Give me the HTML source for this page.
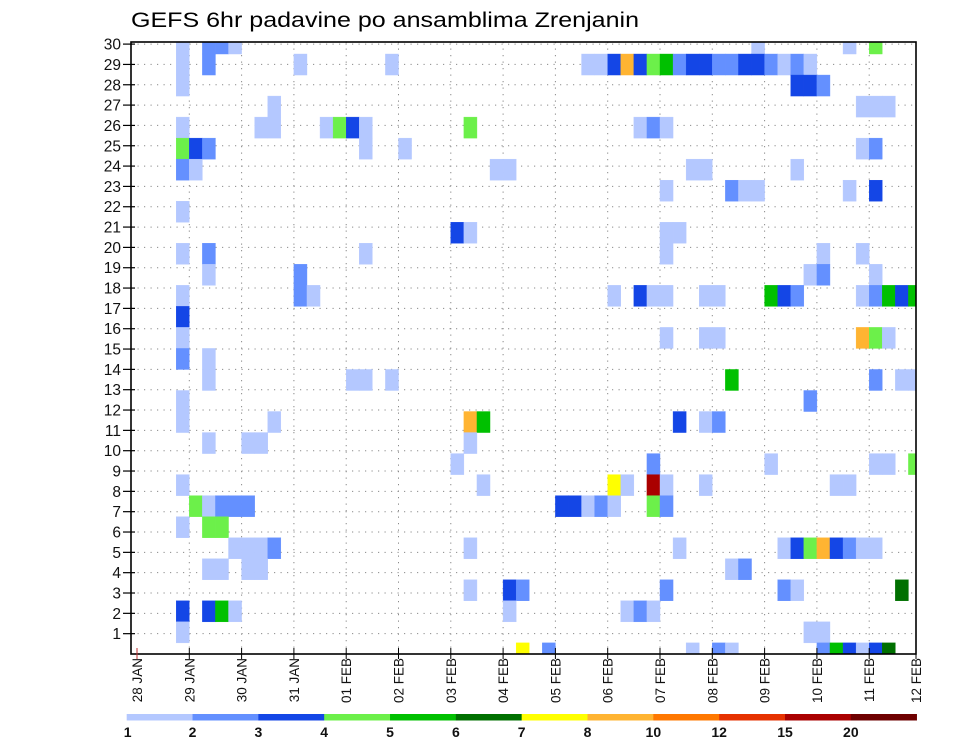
<!DOCTYPE html>
<html><head><meta charset="utf-8">
<style>
html,body{margin:0;padding:0;background:#fff;}
svg{display:block;font-family:"Liberation Sans",sans-serif;}
</style></head>
<body>
<svg id="chart" width="960" height="742" viewBox="0 0 960 742" xmlns="http://www.w3.org/2000/svg">
<text x="131" y="27" font-size="21" textLength="508" lengthAdjust="spacingAndGlyphs" fill="#000">GEFS 6hr padavine po ansamblima Zrenjanin</text>
<g id="grid"></g>
<g id="cells"></g>
<rect x="131" y="42" width="785" height="612" fill="none" stroke="#000" stroke-width="1.6"/>
<g id="yaxis"></g>
<g id="xaxis"></g>
<g id="cbar"></g>
</svg>
<script>
// ---- data ----
const dayLabels = ["28 JAN","29 JAN","30 JAN","31 JAN","01 FEB","02 FEB","03 FEB","04 FEB","05 FEB","06 FEB","07 FEB","08 FEB","09 FEB","10 FEB","11 FEB","12 FEB"];
const yTicks = [1,2,3,4,5,6,7,8,9,10,11,12,13,14,15,16,17,18,19,20,21,22,23,24,25,26,27,28,29,30];
const levels = [1,2,3,4,5,6,7,8,10,12,15,20];
const levelColors = ["#b4c8ff","#6490ff","#1446e6","#6cf04a","#00c000","#007000","#ffff00","#ffb432","#ff7800","#e63200","#aa0000","#6e0000"];
// each cell: ensemble member, 6-hour step index, precipitation (mm)
const cellMember = [
30,30,30,30,30,30,30,
29,29,29,29,29,29,29,29,29,29,29,29,29,29,29,29,29,29,29,29,29,29,
28,28,28,28,
27,27,27,27,
26,26,26,26,26,26,26,26,26,26,26,
25,25,25,25,25,25,25,
24,24,24,24,24,24,24,
23,23,23,23,23,23,
22,
21,21,21,21,
20,20,20,20,20,20,
19,19,19,19,19,
18,18,18,18,18,18,18,18,18,18,18,18,18,18,18,18,18,
17,
16,16,16,16,16,16,16,
15,15,
14,14,14,14,14,14,14,14,
13,13,
12,12,12,12,12,12,12,
11,11,11,11,
10,10,10,10,10,10,
9,9,9,9,9,9,9,9,9,
8,8,8,8,8,8,8,8,8,8,8,8,
7,7,7,
6,6,6,6,6,6,6,6,6,6,6,6,6,6,
5,5,5,5,5,5,
4,4,4,4,4,4,4,
3,3,3,3,3,3,3,3,
2,2,2,
1,1,1,1,1,1,1,1,1,1,1];
const cellStep = [
3,5,6,7,47,54,56,
3,5,12,19,34,35,36,37,38,39,40,41,42,43,44,45,46,47,48,49,50,51,
3,50,51,52,
10,55,56,57,
3,9,10,14,15,16,17,25,38,39,40,
3,4,5,17,20,55,56,
3,4,27,28,42,43,50,
40,45,46,47,54,56,
3,
24,25,40,41,
3,5,17,40,52,55,
5,12,51,52,56,
3,12,13,36,38,39,40,43,44,48,49,50,55,56,57,58,59,
3,
3,40,43,44,55,56,57,
3,5,
5,16,17,19,45,56,58,59,
3,51,
3,10,25,26,41,43,44,
5,8,9,25,
24,39,48,56,57,59,
3,26,36,37,39,40,43,53,54,
4,5,6,7,8,32,33,34,35,36,39,40,
3,5,6,
7,8,9,10,25,41,49,50,51,52,53,54,55,56,
5,6,8,9,45,46,
25,28,29,40,49,50,58,
3,5,6,7,28,37,38,39,
3,51,52,
29,31,42,44,45,52,53,54,55,56,57];
const cellValue = [
1.5,2.5,2.5,1.5,1.5,1.5,4.5,
1.5,2.5,1.5,1.5,1.5,1.5,3.5,9,3.5,4.5,5.5,2.5,3.5,3.5,2.5,2.5,3.5,3.5,2.5,1.5,2.5,1.5,
1.5,3.5,3.5,2.5,
1.5,1.5,1.5,1.5,
1.5,1.5,1.5,1.5,4.5,3.5,1.5,4.5,1.5,2.5,1.5,
4.5,3.5,2.5,1.5,1.5,1.5,2.5,
2.5,1.5,1.5,1.5,1.5,1.5,1.5,
1.5,2.5,1.5,1.5,1.5,3.5,
1.5,
3.5,1.5,1.5,1.5,
1.5,2.5,1.5,1.5,1.5,1.5,
1.5,2.5,1.5,2.5,1.5,
1.5,2.5,1.5,1.5,3.5,1.5,1.5,1.5,1.5,5.5,3.5,2.5,1.5,2.5,5.5,3.5,5.5,
3.5,
1.5,1.5,1.5,1.5,9,4.5,1.5,
2.5,1.5,
1.5,1.5,1.5,1.5,5.5,2.5,1.5,1.5,
1.5,2.5,
1.5,1.5,9,5.5,3.5,1.5,2.5,
1.5,1.5,1.5,1.5,
1.5,2.5,1.5,1.5,1.5,4.5,
1.5,1.5,7.5,1.5,17,1.5,1.5,1.5,1.5,
4.5,1.5,2.5,2.5,2.5,3.5,3.5,1.5,2.5,1.5,4.5,2.5,
1.5,4.5,4.5,
1.5,1.5,1.5,2.5,1.5,1.5,1.5,3.5,4.5,9,3.5,2.5,1.5,1.5,
1.5,1.5,1.5,1.5,1.5,2.5,
1.5,3.5,2.5,2.5,2.5,1.5,6.5,
3.5,3.5,5.5,1.5,1.5,1.5,2.5,1.5,
1.5,1.5,1.5,
7.5,2.5,1.5,2.5,1.5,2.5,5.5,3.5,1.5,3.5,6.5];

// ---- scales ----
const NS = "http://www.w3.org/2000/svg";
const PL = 131, PR = 916, PT = 42, PB = 654;
const X0 = 137, DAYW = 52.3, STEPW = DAYW / 4;
const ROWH = 21.03;
function xStep(s){ return X0 + s * STEPW; }
function xDay(d){ return Math.min(X0 + d * DAYW, PR); }
function yMember(m){ return 43.5 + (30 - m) * ROWH; }
function yTick(v){ return PB - v * 20.33; }
function colorFor(v){ let i = 0; for (let k = 0; k < levels.length; k++) if (v >= levels[k]) i = k; return levelColors[i]; }
function mk(tag, attrs, parent){ const e = document.createElementNS(NS, tag); for (const a in attrs) e.setAttribute(a, attrs[a]); parent.appendChild(e); return e; }

// grid
const grid = document.getElementById("grid");
yTicks.forEach(v => {
  const y = yTick(v);
  if (y <= PT + 1) return;
  const l = mk("line", {x1:PL, x2:PR, y1:y, y2:y, stroke:"#8a8a8a", "stroke-width":1, "stroke-dasharray":"1.2,5.3"}, grid);
  
  
});
dayLabels.forEach((d, i) => {
  const x = xDay(i);
  if (i === 0 || x >= PR) return;
  const l = mk("line", {x1:x, x2:x, y1:PT, y2:PB, stroke:"#8a8a8a", "stroke-width":1, "stroke-dasharray":"1.2,5.3"}, grid);
  
  
});

// cells
const cells = document.getElementById("cells");
for (let i = 0; i < cellValue.length; i++) {
  const x = xStep(cellStep[i]);
  const yc = yMember(cellMember[i]);
  let y1 = Math.max(yc - ROWH / 2, PT), y2 = Math.min(yc + ROWH / 2, PB);
  const x2 = Math.min(x + STEPW, PR);
  const r = mk("rect", {x:x, y:y1, width:x2 - x, height:y2 - y1, fill:colorFor(cellValue[i]), stroke:colorFor(cellValue[i]), "stroke-width":0.4}, cells);
  
  
}

// y axis
const ya = document.getElementById("yaxis");
yTicks.forEach(v => {
  const y = yTick(v);
  const t = mk("line", {x1:PL - 8, x2:PL + 4, y1:y, y2:y, stroke:"#000", "stroke-width":1.2}, ya);
  
  
  const tx = mk("text", {x:PL - 10, y:y + 5.5, "font-size":15.5, "text-anchor":"end", fill:"#111"}, ya);
  tx.textContent = v;
  
  
});

// x axis
const xa = document.getElementById("xaxis");
dayLabels.forEach((d, i) => {
  const x = xDay(i);
  const t = mk("line", {x1:x, x2:x, y1:PB - 6, y2:PB + 5, stroke: i === 0 ? "#c03030" : "#000", "stroke-width":1}, xa);
  
  
  const tx = mk("text", {x:0, y:0, "font-size":13.5, "text-anchor":"end", fill:"#111", transform:"translate(" + (x + 5) + ",658) rotate(-90)"}, xa);
  tx.textContent = d;
  
  
});

// colorbar
const cb = document.getElementById("cbar");
const CBX = 126.7, CBW = 65.83;
levels.forEach((lv, i) => {
  const r = mk("rect", {x:CBX + i * CBW, y:714, width:CBW + 0.3, height:6.5, fill:levelColors[i]}, cb);
  
  
  const tx = mk("text", {x:CBX + i * CBW + (i === 0 ? 1 : 0), y:737, "font-size":14, "font-weight":"bold", "text-anchor":"middle", fill:"#111"}, cb);
  tx.textContent = lv;
  
  
});
</script>
</body></html>
